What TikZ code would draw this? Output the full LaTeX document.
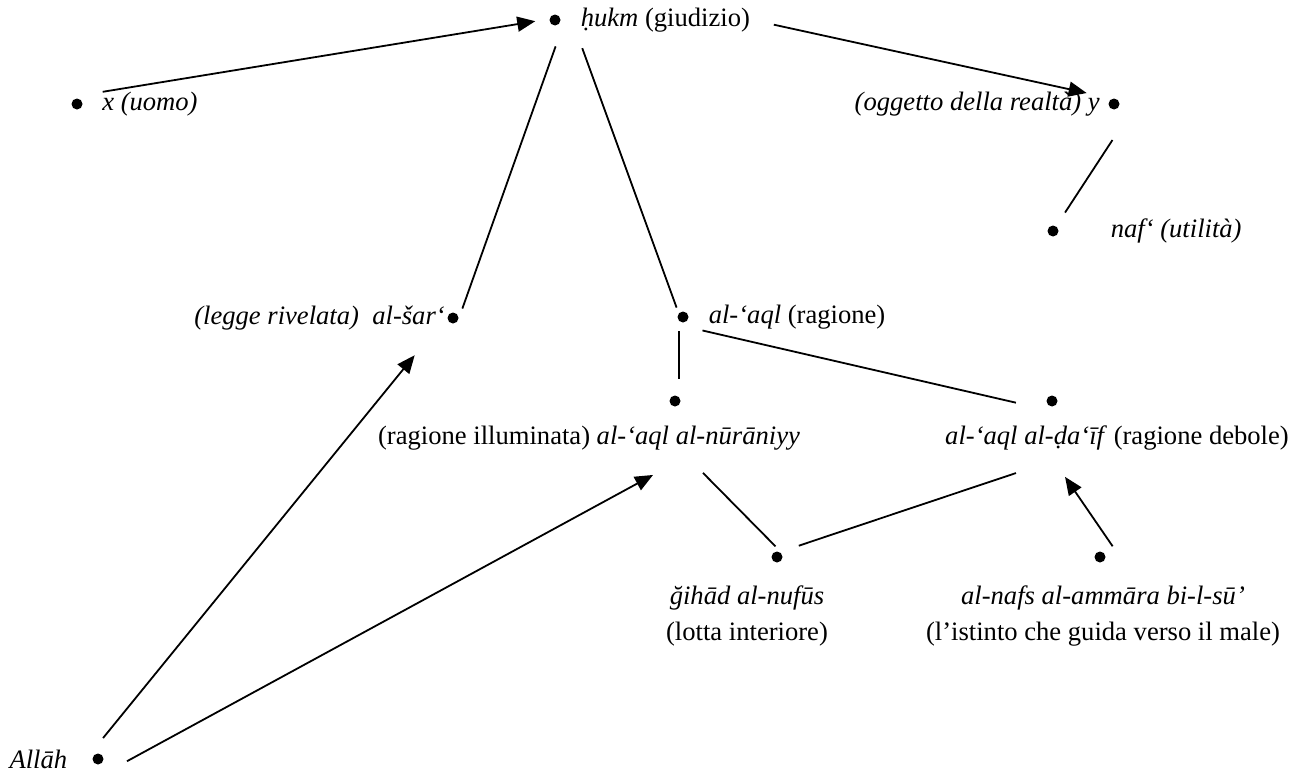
\documentclass[tikz,border=0pt]{standalone}
\usepackage{fontspec}
\setmainfont{Liberation Serif}
\usetikzlibrary{positioning,arrows.meta}

\begin{document}
\begin{tikzpicture}[
x=0.5pt,y=-0.5pt,
pnt/.style={
    circle,
    fill,
    inner sep=0pt,
    minimum size=5.5pt
},
lab/.style={
    inner sep=1pt,
    align=center,
    font=\fontsize{13.3}{18}\selectfont
},
link/.style={line width=0.9pt},
>={Triangle[length=9pt,width=7.5pt]}
]
\useasboundingbox (0,0) rectangle (1298,771);

\node[pnt] (hukm) at (555,20) {};
\node[pnt] (x) at (77,104) {};
\node[pnt] (y) at (1114,104) {};
\node[pnt] (naf) at (1053,231) {};
\node[pnt] (shar) at (453,318) {};
\node[pnt] (aql) at (683,317) {};
\node[pnt] (nur) at (675,401) {};
\node[pnt] (daif) at (1052,401) {};
\node[pnt] (gihad) at (777,557) {};
\node[pnt] (nafs) at (1100,557) {};
\node[pnt] (allah) at (98,759) {};

\node[lab] (hukmlbl) [right=8.75pt of hukm] {\textit{ḥukm} (giudizio)};
\node[lab] (xlbl) [right=8.5pt of x] {\textit{x (uomo)}};
\node[lab] (ylbl) [left=3pt of y] {\textit{(oggetto della realtà) y}};
\node[lab] (naflbl) [right=24.75pt of naf] {\textit{naf‘ (utilità)}};
\node[lab] (sharlbl) [left=0pt of shar] {\textit{(legge rivelata)\enspace al-šar‘}};
\node[lab] (aqllbl) [right=8.75pt of aql] {\textit{al-‘aql} (ragione)};
\node[lab] (allahlbl) [left=11.25pt of allah] {\textit{Allāh}};
\node[lab] (nurlbl) at (589,438) {(ragione illuminata) \textit{al-‘aql al-nūrāniyy}};
\node[lab] (daiflbl) at (1117,438) {\textit{al-‘aql al-ḍa‘īf} (ragione debole)};
\node[lab] (gihadlbl) at (747,616) {\textit{ğihād al-nufūs}\\(lotta interiore)};
\node[lab] (nafslbl) at (1103,616) {\textit{al-nafs al-ammāra bi-l-sū’}\\(l’istinto che guida verso il male)};

\draw[link,->,shorten <=13pt,shorten >=10pt] ([yshift=4pt]x.center) -- ([yshift=1pt]hukm.center);
\draw[link,->,shorten <=11pt,shorten >=14pt] (hukmlbl.east) -- ([yshift=2.5pt]y.center);
\draw[link,shorten <=14pt,shorten >=5pt] ([xshift=5pt]hukm.center) -- ([xshift=3pt]shar.center);
\draw[link,shorten <=15pt,shorten >=5pt] ([xshift=8.5pt]hukm.center) -- ([xshift=-1.5pt]aql.center);
\draw[link,shorten <=21.5pt,shorten >=11pt] ([xshift=11pt]y.center) -- (naf.center);
\draw[link,shorten <=7pt,shorten >=11pt] ([xshift=-2pt]aql.center) -- ([xshift=2pt]nur.center);
\draw[link,shorten <=10pt,shorten >=18.5pt] ([yshift=-4.5pt]aql.center) -- ([yshift=-5pt]daif.center);
\draw[link,shorten <=50.5pt,shorten >=7.5pt] ([xshift=-21.5pt]nur.center) -- ([xshift=4.5pt]gihad.center);
\draw[link,shorten <=11.5pt,shorten >=19pt] ([yshift=2pt]gihad.center) -- ([yshift=-30pt]daif.center);
\draw[link,->,shorten <=6.5pt,shorten >=46pt] ([xshift=10pt]nafs.center) -- ([xshift=-19.5pt]daif.center);
\draw[link,->,shorten <=13.5pt,shorten >=24pt] ([xshift=-6pt]allah.center) -- ([xshift=-4pt]shar.center);
\draw[link,->,shorten <=16.5pt,shorten >=12.5pt] ([yshift=-9pt]allah.center) -- ([yshift=-31pt]nur.center);

\end{tikzpicture}
\end{document}
